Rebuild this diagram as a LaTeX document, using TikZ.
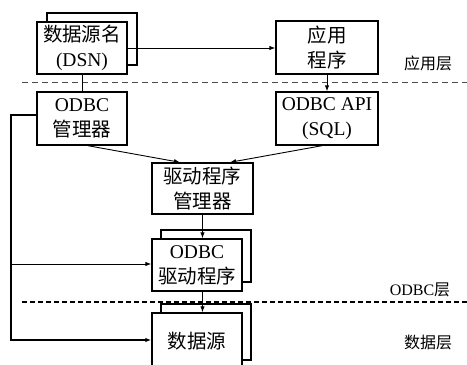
\documentclass[tikz,border=0pt]{standalone}
\usepackage{fontspec}
\setmainfont{Liberation Serif}
\newfontfamily\cjk{Noto Sans CJK SC}
\usetikzlibrary{arrows.meta,shadows}
\tikzset{
  box/.style={draw,line width=1.4pt,fill=white,align=center,inner sep=0pt,
    font=\fontsize{19.5}{25}\selectfont},
  stackbox/.style={box,copy shadow={shadow xshift=#1,shadow yshift=9pt}},
  arr/.style={-{Latex[length=6pt,width=4.5pt]},line width=0.9pt},
  lab/.style={font=\fontsize{16}{18}\selectfont,inner sep=0pt},
  sep1/.style={line width=1pt,gray!60!black,dash pattern=on 6pt off 4pt},
  sep2/.style={line width=1.5pt,dash pattern=on 5pt off 3pt},
}
\begin{document}
\begin{tikzpicture}[x=1pt,y=-1pt]
\useasboundingbox (0,0) rectangle (467,365);
\node[stackbox=10pt,minimum width=90pt,minimum height=52pt] (dsn) at (82,48) {\cjk 数据源名\\(DSN)};
\node[box,minimum width=102pt,minimum height=53pt] (app) at (327,47.5) {\cjk 应用\\\cjk 程序};
\node[box,minimum width=90pt,minimum height=53pt] (mgr) at (82,118.5) {ODBC\\\cjk 管理器};
\node[box,minimum width=102pt,minimum height=53pt] (api) at (327,118.5) {ODBC API\\(SQL)};
\node[box,minimum width=101pt,minimum height=51pt] (dm) at (202.5,188.5) {\cjk 驱动程序\\\cjk 管理器};
\node[stackbox=9pt,minimum width=90pt,minimum height=52pt] (drv) at (197,265) {ODBC\\\cjk 驱动程序};
\node[stackbox=9pt,minimum width=90pt,minimum height=56pt] (ds) at (197,341) {\cjk 数据源};

\draw[sep1] (22,82) -- (467,82);
\draw[sep2] (22,302) -- (467,302);

\node[lab] (l1) at (428,63) {\cjk 应用层};
\node[lab] (l2) at (420,290) {ODBC\cjk 层};
\node[lab] (l3) at (428,342) {\cjk 数据层};

\draw[arr] (dsn.east) -- (dsn.east -| app.west);
\draw[arr] (app.south) -- (api.north);
\draw[line width=0.9pt] (dsn.south) -- (mgr.north);
\draw[arr] ([xshift=6pt]mgr.south) -- ([xshift=-22.5pt]dm.north);
\draw[arr] ([xshift=-5pt]api.south) -- ([xshift=27.5pt]dm.north);
\draw[arr] (dm.south) -- (dm.south |- drv.north);
\draw[arr] (dm.south |- drv.south) -- (dm.south |- ds.north);
\draw[arr,line width=2pt] ([yshift=3.5pt]mgr.west) -- ++(-25,0) |- ([yshift=1pt]ds.west);
\coordinate (br) at (12,264);
\draw[arr] (br) -- (br -| drv.west);
\end{tikzpicture}
\end{document}
